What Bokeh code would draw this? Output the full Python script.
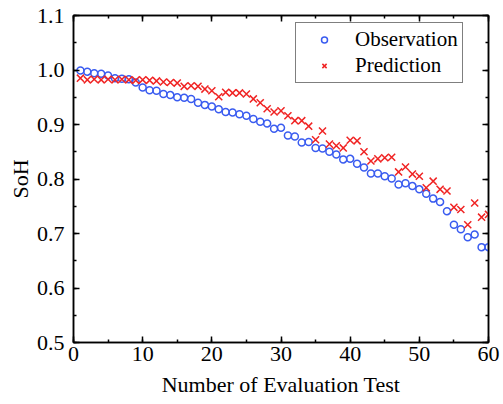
from bokeh.plotting import figure
from bokeh.models import (Range1d, LinearAxis, SingleIntervalTicker, PrintfTickFormatter)
from bokeh.embed import file_html
from bokeh.resources import INLINE

# ---- data ----
test_no = list(range(1, 61))
observation = [0.999, 0.997, 0.994, 0.993, 0.990, 0.985, 0.984, 0.983, 0.977, 0.968,
               0.963, 0.962, 0.956, 0.954, 0.950, 0.949, 0.947, 0.940, 0.936, 0.933,
               0.928, 0.923, 0.922, 0.919, 0.916, 0.910, 0.905, 0.902, 0.892, 0.894,
               0.880, 0.878, 0.867, 0.868, 0.857, 0.856, 0.850, 0.845, 0.836, 0.837,
               0.828, 0.821, 0.810, 0.810, 0.805, 0.801, 0.790, 0.792, 0.787, 0.781,
               0.773, 0.764, 0.758, 0.741, 0.716, 0.708, 0.693, 0.698, 0.675, 0.675]
prediction = [0.985, 0.982, 0.983, 0.982, 0.983, 0.982, 0.983, 0.982, 0.981, 0.982,
              0.981, 0.980, 0.978, 0.977, 0.976, 0.970, 0.971, 0.970, 0.965, 0.962,
              0.951, 0.959, 0.958, 0.958, 0.956, 0.947, 0.940, 0.929, 0.923, 0.925,
              0.916, 0.907, 0.907, 0.897, 0.872, 0.888, 0.864, 0.861, 0.857, 0.871,
              0.870, 0.850, 0.833, 0.837, 0.839, 0.840, 0.813, 0.822, 0.809, 0.805,
              0.784, 0.796, 0.781, 0.778, 0.748, 0.744, 0.716, 0.756, 0.730, 0.735]
x_label = "Number of Evaluation Test"
y_label = "SoH"
series_names = ["Observation", "Prediction"]

FONT = "Liberation Serif"
FS = "22px"

p = figure(width=503, height=404, output_backend="svg", toolbar_location=None,
           x_range=Range1d(0, 60), y_range=Range1d(0.5, 1.1),
           frame_width=415, frame_height=327,
           min_border_left=73, min_border_right=15, min_border_top=15, min_border_bottom=62,
           x_axis_label=x_label, y_axis_label=y_label)
p.background_fill_color = "white"
p.border_fill_color = "white"
p.outline_line_color = "black"
p.outline_line_width = 1.5
p.grid.visible = False

def style_axis(ax, show_labels=True):
    ax.axis_line_color = "black"
    ax.axis_line_width = 1.5
    ax.major_tick_in = 6
    ax.major_tick_out = 0
    ax.minor_tick_in = 3
    ax.minor_tick_out = 0
    ax.major_tick_line_color = "black"
    ax.major_tick_line_width = 1.5
    ax.minor_tick_line_color = "black"
    ax.minor_tick_line_width = 1.5
    ax.major_label_text_font = FONT
    if show_labels:
        ax.major_label_text_font_size = FS
        ax.major_label_text_color = "black"
    else:
        ax.major_label_text_font_size = "0px"
        ax.major_label_text_color = None
    ax.axis_label_text_font = FONT
    ax.axis_label_text_font_size = FS
    ax.axis_label_text_font_style = "normal"
    ax.axis_label_text_color = "black"

xt = SingleIntervalTicker(interval=10, num_minor_ticks=2)
yt = SingleIntervalTicker(interval=0.1, num_minor_ticks=2)

p.xaxis[0].ticker = xt
p.yaxis[0].ticker = yt
p.yaxis[0].formatter = PrintfTickFormatter(format="%.1f")
style_axis(p.xaxis[0])
style_axis(p.yaxis[0])
p.xaxis[0].major_label_standoff = 4
p.xaxis[0].axis_label_standoff = 8
p.yaxis[0].major_label_standoff = 9
p.yaxis[0].axis_label_standoff = 1

top = LinearAxis(ticker=SingleIntervalTicker(interval=10, num_minor_ticks=2))
right = LinearAxis(ticker=SingleIntervalTicker(interval=0.1, num_minor_ticks=2))
for ax in (top, right):
    style_axis(ax, show_labels=False)
    ax.major_label_standoff = 0
p.add_layout(top, "above")
p.add_layout(right, "right")

p.scatter(test_no, observation, marker="circle", size=7, fill_color=None,
          line_color="#3a5cf0", line_width=1.5, legend_label=series_names[0])
p.scatter(test_no, prediction, marker="x", size=10, line_color="#f02424",
          line_width=1.5, legend_label=series_names[1])

lg = p.legend[0]
lg.location = (222, 259)
lg.margin = 0
lg.padding = 4
lg.spacing = 1
lg.label_height = 25
lg.glyph_height = 15
lg.glyph_width = 48
lg.label_standoff = 7
lg.label_text_font = FONT
lg.label_text_font_size = "21px"
lg.label_text_color = "black"
lg.border_line_color = "black"
lg.border_line_width = 1.3
lg.background_fill_color = "white"
lg.background_fill_alpha = 1.0

open("out.html", "w").write(file_html(p, INLINE))
